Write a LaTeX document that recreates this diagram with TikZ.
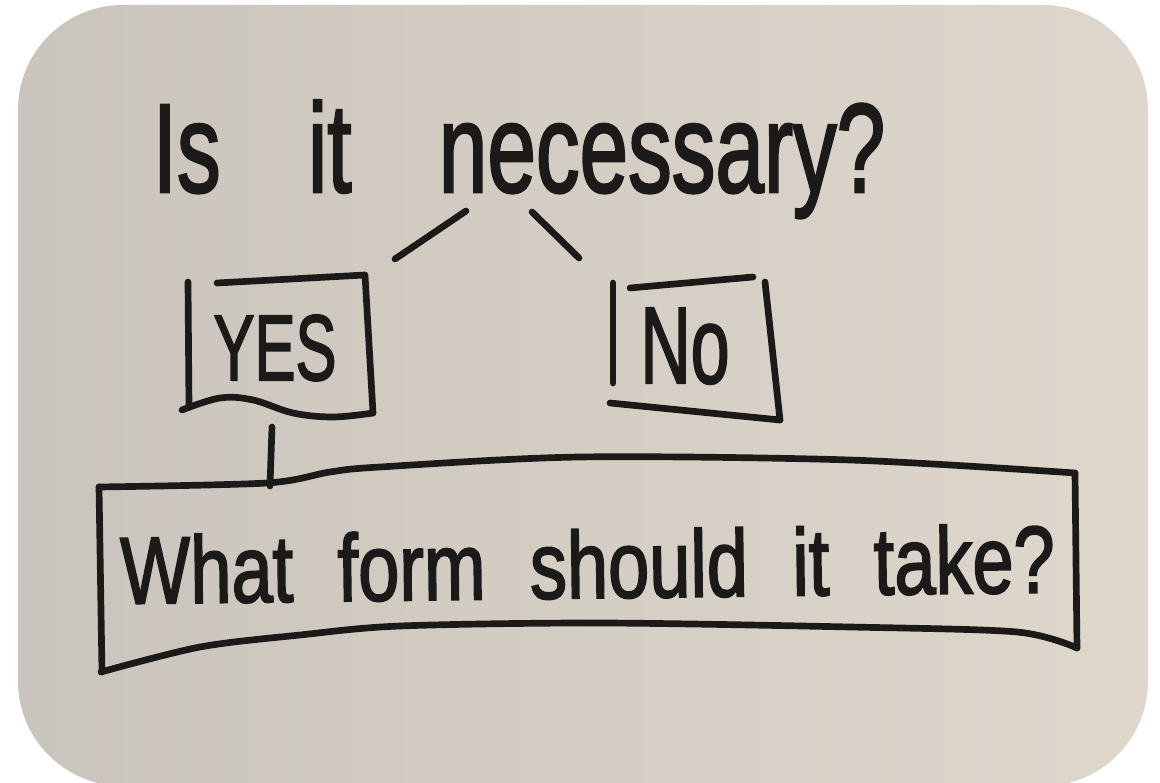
\documentclass[tikz,border=0pt]{standalone}
\usepackage{fontspec}
\usepackage{graphicx}
\setmainfont{Liberation Sans}
\newfontfamily\inkfont{Liberation Sans}[FakeBold=2.2]
\usetikzlibrary{calc, positioning}

\definecolor{ink}{HTML}{1C1A18}
\definecolor{paperlo}{HTML}{C9C4BC}
\definecolor{paperhi}{HTML}{DFD7CC}

\tikzset{
  pen/.style={draw=ink, line width=3.8pt, line cap=round, line join=round},
  scribble/.style={inner sep=0pt, text=ink, anchor=base}
}
\newcommand{\squeeze}[2]{\scalebox{#1}[1]{#2}}

\begin{document}
\begin{tikzpicture}[x=0.02cm, y=-0.02cm]
    \fill[white] (0,0) rectangle (1160,783);
    \useasboundingbox (0,0) rectangle (1160,783);
    \shade[left color=paperlo, right color=paperhi, rounded corners=2.1cm] (18,5) rectangle (1148,786);

    \node[scribble, font=\inkfont\fontsize{72}{72}\selectfont] (question) at (519,192) {\squeeze{0.69}{\spaceskip=1em Is it necessary?}};
    \node[scribble, font=\inkfont\fontsize{53}{53}\selectfont] (yes) at (275,380) {\squeeze{0.66}{YES}};
    \node[scribble, font=\inkfont\fontsize{62}{62}\selectfont] (no) at (685,383) {\squeeze{0.64}{No}};
    \node[scribble, font=\inkfont\fontsize{54}{54}\selectfont, rotate=0.7] (form) at (588,598) {\squeeze{0.78}{\spaceskip=0.6em What form should it take?}};

    \coordinate (yesarm) at (395,259);
    \coordinate (qleft) at (466,211);
    \coordinate (qright) at (532,212);
    \coordinate (noarm) at (579,258);
    \coordinate (yesfoot) at (272,427);
    \coordinate (formtop) at (270,486);

    \draw[pen] (qleft) -- (yesarm);
    \draw[pen] (qright) -- (noarm);
    \draw[pen] (yesfoot) -- (formtop);

    % YES box
    \draw[pen] (188,282) -- (189,407);
    \draw[pen] (217,283) -- (365,275) -- (373,413);
    \draw[pen] plot[smooth, tension=0.6] coordinates {(373,413) (333,417) (293,413) (253,400) (220,398) (182,410)};

    % No box
    \draw[pen] (613,283) -- (613,383);
    \draw[pen] (630,288) -- (753,277);
    \draw[pen] (765,282) -- (780,420);
    \draw[pen] (610,403) -- (780,420);

    % form box
    \draw[pen] plot[smooth, tension=0.5] coordinates {(99,487) (267,483) (330,472) (380,467) (580,457) (850,460) (1075,473)};
    \draw[pen] (1075,473) -- (1077,648);
    \draw[pen] plot[smooth, tension=0.5] coordinates {(1077,648) (1017,632) (850,627) (600,623) (400,626) (300,635) (200,647) (101,672)};
    \draw[pen] (99,487) -- (102,672);
\end{tikzpicture}
\end{document}
